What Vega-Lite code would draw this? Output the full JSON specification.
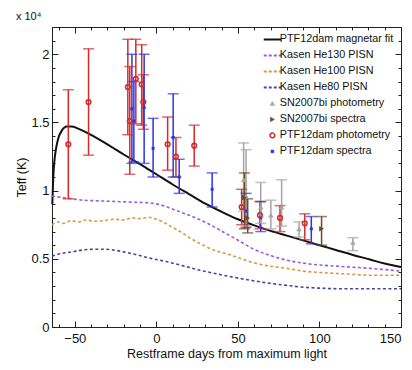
{
  "$schema": "https://vega.github.io/schema/vega-lite/v6.json",
  "width": 349,
  "height": 300,
  "autosize": {"type": "none"},
  "padding": {"left": 52, "top": 27, "right": 11, "bottom": 43},
  "background": "white",
  "title": {"text": "x 10⁴", "anchor": "start", "fontSize": 11, "fontWeight": "normal", "offset": 5, "color": "#111"},
  "config": {
    "font": "Liberation Sans Narrow, Liberation Sans, Arial, sans-serif",
    "view": {"stroke": "#222", "strokeWidth": 1},
    "axis": {"domainColor": "#222", "tickColor": "#222", "labelColor": "#111", "titleColor": "#111", "grid": false, "labelFontSize": 13, "titleFontSize": 12.5, "titleFontWeight": "normal"}
  },
  "datasets": {
    "lines": [
      {"s": "PTF12dam magnetar fit", "x": -63.8, "y": 0.9},
      {"s": "PTF12dam magnetar fit", "x": -63.3, "y": 1.08},
      {"s": "PTF12dam magnetar fit", "x": -62.5, "y": 1.22},
      {"s": "PTF12dam magnetar fit", "x": -61.5, "y": 1.31},
      {"s": "PTF12dam magnetar fit", "x": -60, "y": 1.39},
      {"s": "PTF12dam magnetar fit", "x": -58, "y": 1.44},
      {"s": "PTF12dam magnetar fit", "x": -55, "y": 1.47},
      {"s": "PTF12dam magnetar fit", "x": -52, "y": 1.47},
      {"s": "PTF12dam magnetar fit", "x": -48, "y": 1.455},
      {"s": "PTF12dam magnetar fit", "x": -41, "y": 1.415},
      {"s": "PTF12dam magnetar fit", "x": -30, "y": 1.34},
      {"s": "PTF12dam magnetar fit", "x": -20, "y": 1.265},
      {"s": "PTF12dam magnetar fit", "x": -10, "y": 1.195},
      {"s": "PTF12dam magnetar fit", "x": 0, "y": 1.12},
      {"s": "PTF12dam magnetar fit", "x": 10, "y": 1.045},
      {"s": "PTF12dam magnetar fit", "x": 20, "y": 0.975},
      {"s": "PTF12dam magnetar fit", "x": 30, "y": 0.905},
      {"s": "PTF12dam magnetar fit", "x": 40, "y": 0.845},
      {"s": "PTF12dam magnetar fit", "x": 50, "y": 0.79},
      {"s": "PTF12dam magnetar fit", "x": 60, "y": 0.745},
      {"s": "PTF12dam magnetar fit", "x": 70, "y": 0.705},
      {"s": "PTF12dam magnetar fit", "x": 80, "y": 0.67},
      {"s": "PTF12dam magnetar fit", "x": 90, "y": 0.635},
      {"s": "PTF12dam magnetar fit", "x": 100, "y": 0.6},
      {"s": "PTF12dam magnetar fit", "x": 110, "y": 0.565},
      {"s": "PTF12dam magnetar fit", "x": 120, "y": 0.53},
      {"s": "PTF12dam magnetar fit", "x": 131, "y": 0.495},
      {"s": "PTF12dam magnetar fit", "x": 140, "y": 0.465},
      {"s": "PTF12dam magnetar fit", "x": 150, "y": 0.44},

      {"s": "Kasen He130 PISN", "x": -64, "y": 0.96},
      {"s": "Kasen He130 PISN", "x": -55, "y": 0.945},
      {"s": "Kasen He130 PISN", "x": -45, "y": 0.93},
      {"s": "Kasen He130 PISN", "x": -35, "y": 0.925},
      {"s": "Kasen He130 PISN", "x": -24, "y": 0.92},
      {"s": "Kasen He130 PISN", "x": -14, "y": 0.915},
      {"s": "Kasen He130 PISN", "x": -4, "y": 0.91},
      {"s": "Kasen He130 PISN", "x": 4, "y": 0.89},
      {"s": "Kasen He130 PISN", "x": 12, "y": 0.855},
      {"s": "Kasen He130 PISN", "x": 20, "y": 0.82},
      {"s": "Kasen He130 PISN", "x": 27, "y": 0.785},
      {"s": "Kasen He130 PISN", "x": 33, "y": 0.75},
      {"s": "Kasen He130 PISN", "x": 39, "y": 0.71},
      {"s": "Kasen He130 PISN", "x": 45, "y": 0.67},
      {"s": "Kasen He130 PISN", "x": 51, "y": 0.63},
      {"s": "Kasen He130 PISN", "x": 59, "y": 0.575},
      {"s": "Kasen He130 PISN", "x": 71, "y": 0.52},
      {"s": "Kasen He130 PISN", "x": 80, "y": 0.49},
      {"s": "Kasen He130 PISN", "x": 92, "y": 0.465},
      {"s": "Kasen He130 PISN", "x": 100, "y": 0.455},
      {"s": "Kasen He130 PISN", "x": 112, "y": 0.445},
      {"s": "Kasen He130 PISN", "x": 131, "y": 0.43},
      {"s": "Kasen He130 PISN", "x": 150, "y": 0.41},

      {"s": "Kasen He100 PISN", "x": -64, "y": 0.75},
      {"s": "Kasen He100 PISN", "x": -60, "y": 0.77},
      {"s": "Kasen He100 PISN", "x": -57, "y": 0.76},
      {"s": "Kasen He100 PISN", "x": -52, "y": 0.78},
      {"s": "Kasen He100 PISN", "x": -48, "y": 0.77},
      {"s": "Kasen He100 PISN", "x": -43, "y": 0.785},
      {"s": "Kasen He100 PISN", "x": -38, "y": 0.775},
      {"s": "Kasen He100 PISN", "x": -32, "y": 0.78},
      {"s": "Kasen He100 PISN", "x": -26, "y": 0.79},
      {"s": "Kasen He100 PISN", "x": -20, "y": 0.785},
      {"s": "Kasen He100 PISN", "x": -15, "y": 0.8},
      {"s": "Kasen He100 PISN", "x": -10, "y": 0.795},
      {"s": "Kasen He100 PISN", "x": -5, "y": 0.805},
      {"s": "Kasen He100 PISN", "x": 0, "y": 0.79},
      {"s": "Kasen He100 PISN", "x": 4, "y": 0.77},
      {"s": "Kasen He100 PISN", "x": 10, "y": 0.73},
      {"s": "Kasen He100 PISN", "x": 16, "y": 0.69},
      {"s": "Kasen He100 PISN", "x": 21, "y": 0.65},
      {"s": "Kasen He100 PISN", "x": 27, "y": 0.61},
      {"s": "Kasen He100 PISN", "x": 35, "y": 0.565},
      {"s": "Kasen He100 PISN", "x": 45, "y": 0.53},
      {"s": "Kasen He100 PISN", "x": 52, "y": 0.5},
      {"s": "Kasen He100 PISN", "x": 60, "y": 0.47},
      {"s": "Kasen He100 PISN", "x": 70, "y": 0.445},
      {"s": "Kasen He100 PISN", "x": 80, "y": 0.43},
      {"s": "Kasen He100 PISN", "x": 90, "y": 0.41},
      {"s": "Kasen He100 PISN", "x": 100, "y": 0.4},
      {"s": "Kasen He100 PISN", "x": 115, "y": 0.39},
      {"s": "Kasen He100 PISN", "x": 131, "y": 0.38},
      {"s": "Kasen He100 PISN", "x": 150, "y": 0.38},

      {"s": "Kasen He80 PISN", "x": -64, "y": 0.52},
      {"s": "Kasen He80 PISN", "x": -58, "y": 0.54},
      {"s": "Kasen He80 PISN", "x": -52, "y": 0.55},
      {"s": "Kasen He80 PISN", "x": -45, "y": 0.565},
      {"s": "Kasen He80 PISN", "x": -38, "y": 0.57},
      {"s": "Kasen He80 PISN", "x": -31, "y": 0.57},
      {"s": "Kasen He80 PISN", "x": -24, "y": 0.56},
      {"s": "Kasen He80 PISN", "x": -14, "y": 0.535},
      {"s": "Kasen He80 PISN", "x": -4, "y": 0.505},
      {"s": "Kasen He80 PISN", "x": 6, "y": 0.48},
      {"s": "Kasen He80 PISN", "x": 16, "y": 0.45},
      {"s": "Kasen He80 PISN", "x": 27, "y": 0.415},
      {"s": "Kasen He80 PISN", "x": 35, "y": 0.395},
      {"s": "Kasen He80 PISN", "x": 45, "y": 0.37},
      {"s": "Kasen He80 PISN", "x": 59, "y": 0.34},
      {"s": "Kasen He80 PISN", "x": 70, "y": 0.32},
      {"s": "Kasen He80 PISN", "x": 80, "y": 0.305},
      {"s": "Kasen He80 PISN", "x": 92, "y": 0.29},
      {"s": "Kasen He80 PISN", "x": 100, "y": 0.285},
      {"s": "Kasen He80 PISN", "x": 115, "y": 0.28},
      {"s": "Kasen He80 PISN", "x": 130, "y": 0.28},
      {"s": "Kasen He80 PISN", "x": 150, "y": 0.28}
    ],
    "pts": [
      {"s": "PTF12dam photometry", "x": -54, "y": 1.34, "lo": 0.94, "hi": 1.74},
      {"s": "PTF12dam photometry", "x": -41.6, "y": 1.65, "lo": 1.26, "hi": 2.04},
      {"s": "PTF12dam photometry", "x": -17.5, "y": 1.76, "lo": 1.41, "hi": 2.11},
      {"s": "PTF12dam photometry", "x": -16.3, "y": 1.51, "lo": 1.12, "hi": 1.91},
      {"s": "PTF12dam photometry", "x": -12.6, "y": 1.82, "lo": 1.49, "hi": 2.11},
      {"s": "PTF12dam photometry", "x": -9, "y": 1.78, "lo": 1.48, "hi": 2.07},
      {"s": "PTF12dam photometry", "x": -8, "y": 1.65, "lo": 1.45, "hi": 1.85},
      {"s": "PTF12dam photometry", "x": 6.9, "y": 1.34, "lo": 1.15, "hi": 1.54},
      {"s": "PTF12dam photometry", "x": 12, "y": 1.25, "lo": 1.1, "hi": 1.39},
      {"s": "PTF12dam photometry", "x": 23.2, "y": 1.33, "lo": 1.18, "hi": 1.48},
      {"s": "PTF12dam photometry", "x": 52.3, "y": 0.88, "lo": 0.75, "hi": 1.01},
      {"s": "PTF12dam photometry", "x": 63.5, "y": 0.82, "lo": 0.72, "hi": 0.92},
      {"s": "PTF12dam photometry", "x": 75.8, "y": 0.8, "lo": 0.7, "hi": 0.89},
      {"s": "PTF12dam photometry", "x": 91, "y": 0.76, "lo": 0.64, "hi": 0.83},

      {"s": "PTF12dam spectra", "x": -15, "y": 1.6, "lo": 1.2, "hi": 2.0},
      {"s": "PTF12dam spectra", "x": -13.8, "y": 1.51, "lo": 1.21, "hi": 1.8},
      {"s": "PTF12dam spectra", "x": -7.5, "y": 1.61, "lo": 1.2, "hi": 2.0},
      {"s": "PTF12dam spectra", "x": -2, "y": 1.31, "lo": 1.1, "hi": 1.53},
      {"s": "PTF12dam spectra", "x": 10.3, "y": 1.39, "lo": 1.1, "hi": 1.71},
      {"s": "PTF12dam spectra", "x": 14, "y": 1.1, "lo": 0.98, "hi": 1.23},
      {"s": "PTF12dam spectra", "x": 34.2, "y": 1.01, "lo": 0.88, "hi": 1.13},
      {"s": "PTF12dam spectra", "x": 55, "y": 0.85, "lo": 0.73, "hi": 0.98},
      {"s": "PTF12dam spectra", "x": 64, "y": 0.8, "lo": 0.7, "hi": 0.92},
      {"s": "PTF12dam spectra", "x": 95, "y": 0.72, "lo": 0.61, "hi": 0.81},

      {"s": "SN2007bi photometry", "x": 53.5, "y": 1.08, "lo": 0.85, "hi": 1.35},
      {"s": "SN2007bi photometry", "x": 55, "y": 0.96, "lo": 0.74, "hi": 1.3},
      {"s": "SN2007bi photometry", "x": 64, "y": 0.88, "lo": 0.76, "hi": 1.06},
      {"s": "SN2007bi photometry", "x": 70.2, "y": 0.82, "lo": 0.72, "hi": 0.93},
      {"s": "SN2007bi photometry", "x": 76.8, "y": 0.88, "lo": 0.74, "hi": 1.08},
      {"s": "SN2007bi photometry", "x": 87.5, "y": 0.72, "lo": 0.66, "hi": 0.77},
      {"s": "SN2007bi photometry", "x": 120.5, "y": 0.62, "lo": 0.56, "hi": 0.655},

      {"s": "SN2007bi spectra", "x": 54, "y": 0.95, "lo": 0.72, "hi": 1.13},
      {"s": "SN2007bi spectra", "x": 56, "y": 0.8, "lo": 0.69, "hi": 0.94},
      {"s": "SN2007bi spectra", "x": 101.3, "y": 0.72, "lo": 0.6, "hi": 0.81}
    ]
  },
  "resolve": {"axis": {"x": "independent", "y": "independent"}},
  "layer": [
    {
      "data": {"name": "lines"},
      "transform": [{"filter": "datum.s == 'PTF12dam magnetar fit'"}],
      "mark": {"type": "line", "strokeWidth": 2, "interpolate": "monotone"},
      "encoding": {
        "x": {"field": "x", "type": "quantitative", "scale": {"domain": [-64, 150], "nice": false, "zero": false},
          "axis": {"values": [-50, 0, 50, 100, 150], "format": "d", "tickSize": -6, "labelPadding": 11, "title": "Restframe days from maximum light", "titlePadding": 2, "orient": "bottom"}},
        "y": {"field": "y", "type": "quantitative", "scale": {"domain": [0, 2.2], "nice": false, "zero": false},
          "axis": {"values": [0, 0.5, 1, 1.5, 2], "format": ".1~f", "tickSize": -6, "labelPadding": 9, "title": "Teff (K)", "titlePadding": 2, "orient": "left"}},
        "color": {"field": "s", "type": "nominal",
          "scale": {
            "domain": ["PTF12dam magnetar fit", "Kasen He130 PISN", "Kasen He100 PISN", "Kasen He80 PISN", "SN2007bi photometry", "SN2007bi spectra", "PTF12dam photometry", "PTF12dam spectra"],
            "range": ["#111111", "#9a5ad8", "#d49a40", "#45459a", "#a5a5a5", "#6e4a20", "#d42a2a", "#2a35e0"]
          },
          "legend": {
            "title": null,
            "orient": "top-right",
            "offset": 7,
            "padding": 0,
            "labelFontSize": 10.8,
            "labelColor": "#111",
            "labelOffset": 2,
            "labelLimit": 200,
            "rowPadding": 4,
            "symbolSize": 300,
            "encode": {
              "symbols": {"update": {
                "shape": {"signal": "(datum.value=='PTF12dam magnetar fit'||datum.value=='Kasen He130 PISN'||datum.value=='Kasen He100 PISN'||datum.value=='Kasen He80 PISN') ? 'stroke' : datum.value=='SN2007bi photometry' ? 'triangle-up' : datum.value=='SN2007bi spectra' ? 'triangle-right' : datum.value=='PTF12dam photometry' ? 'circle' : 'square'"},
                "size": {"signal": "(datum.value=='PTF12dam magnetar fit'||datum.value=='Kasen He130 PISN'||datum.value=='Kasen He100 PISN'||datum.value=='Kasen He80 PISN') ? 300 : datum.value=='PTF12dam spectra' ? 8 : 22"},
                "strokeDash": {"signal": "(datum.value=='Kasen He130 PISN'||datum.value=='Kasen He100 PISN'||datum.value=='Kasen He80 PISN') ? [3,2] : [1,0]"},
                "fill": {"signal": "(datum.value=='PTF12dam magnetar fit'||datum.value=='Kasen He130 PISN'||datum.value=='Kasen He100 PISN'||datum.value=='Kasen He80 PISN'||datum.value=='PTF12dam photometry') ? 'transparent' : scale('color', datum.value)"},
                "fillOpacity": {"signal": "datum.value=='PTF12dam photometry' ? 0 : 1"},
                "stroke": {"signal": "scale('color', datum.value)"},
                "strokeWidth": {"signal": "datum.value=='PTF12dam photometry' ? 1.5 : (datum.value=='PTF12dam magnetar fit'||datum.value=='Kasen He130 PISN'||datum.value=='Kasen He100 PISN'||datum.value=='Kasen He80 PISN') ? 2 : 0.5"},
                "opacity": {"value": 1}
              }}
            }
          }
        }
      }
    },
    {
      "data": {"name": "lines"},
      "transform": [{"filter": "datum.s != 'PTF12dam magnetar fit'"}],
      "mark": {"type": "line", "strokeWidth": 1.6, "strokeDash": [3, 2.5], "interpolate": "monotone"},
      "encoding": {
        "x": {"field": "x", "type": "quantitative",
          "axis": {"values": [-60, -40, -30, -20, -10, 10, 20, 30, 40, 60, 70, 80, 90, 110, 120, 130, 140], "labels": false, "domain": false, "tickSize": -3, "title": null, "orient": "bottom"}},
        "y": {"field": "y", "type": "quantitative",
          "axis": {"values": [0.1, 0.2, 0.3, 0.4, 0.6, 0.7, 0.8, 0.9, 1.1, 1.2, 1.3, 1.4, 1.6, 1.7, 1.8, 1.9, 2.1], "labels": false, "domain": false, "tickSize": -3, "title": null, "orient": "left"}},
        "color": {"field": "s", "type": "nominal"}
      }
    },
    {
      "data": {"name": "pts"},
      "mark": {"type": "rule", "strokeWidth": 1.5},
      "encoding": {
        "x": {"field": "x", "type": "quantitative",
          "axis": {"values": [-50, 0, 50, 100, 150], "labels": false, "tickSize": -6, "title": null, "orient": "top"}},
        "y": {"field": "lo", "type": "quantitative",
          "axis": {"values": [0, 0.5, 1, 1.5, 2], "labels": false, "tickSize": -6, "title": null, "orient": "right"}},
        "y2": {"field": "hi"},
        "color": {"field": "s", "type": "nominal"}
      }
    },
    {
      "data": {"name": "pts"},
      "mark": {"type": "tick", "orient": "horizontal", "size": 11, "thickness": 1.5},
      "encoding": {
        "x": {"field": "x", "type": "quantitative",
          "axis": {"values": [-60, -40, -30, -20, -10, 10, 20, 30, 40, 60, 70, 80, 90, 110, 120, 130, 140], "labels": false, "domain": false, "tickSize": -3, "title": null, "orient": "top"}},
        "y": {"field": "lo", "type": "quantitative",
          "axis": {"values": [0.1, 0.2, 0.3, 0.4, 0.6, 0.7, 0.8, 0.9, 1.1, 1.2, 1.3, 1.4, 1.6, 1.7, 1.8, 1.9, 2.1], "labels": false, "domain": false, "tickSize": -3, "title": null, "orient": "right"}},
        "color": {"field": "s", "type": "nominal"}
      }
    },
    {
      "data": {"name": "pts"},
      "mark": {"type": "tick", "orient": "horizontal", "size": 11, "thickness": 1.5},
      "encoding": {
        "x": {"field": "x", "type": "quantitative", "axis": null},
        "y": {"field": "hi", "type": "quantitative", "axis": null},
        "color": {"field": "s", "type": "nominal"}
      }
    },
    {
      "data": {"name": "pts"},
      "transform": [{"filter": "datum.s == 'SN2007bi photometry'"}],
      "mark": {"type": "point", "filled": true, "opacity": 1, "shape": "triangle-up", "size": 30},
      "encoding": {
        "x": {"field": "x", "type": "quantitative", "axis": null},
        "y": {"field": "y", "type": "quantitative", "axis": null},
        "color": {"field": "s", "type": "nominal"}
      }
    },
    {
      "data": {"name": "pts"},
      "transform": [{"filter": "datum.s == 'SN2007bi spectra'"}],
      "mark": {"type": "point", "filled": true, "opacity": 1, "shape": "triangle-right", "size": 30},
      "encoding": {
        "x": {"field": "x", "type": "quantitative", "axis": null},
        "y": {"field": "y", "type": "quantitative", "axis": null},
        "color": {"field": "s", "type": "nominal"}
      }
    },
    {
      "data": {"name": "pts"},
      "transform": [{"filter": "datum.s == 'PTF12dam spectra'"}],
      "mark": {"type": "point", "filled": true, "opacity": 1, "shape": "square", "size": 9},
      "encoding": {
        "x": {"field": "x", "type": "quantitative", "axis": null},
        "y": {"field": "y", "type": "quantitative", "axis": null},
        "color": {"field": "s", "type": "nominal"}
      }
    },
    {
      "data": {"name": "pts"},
      "transform": [{"filter": "datum.s == 'PTF12dam photometry'"}],
      "mark": {"type": "point", "filled": false, "shape": "circle", "size": 22, "strokeWidth": 1.5, "opacity": 1},
      "encoding": {
        "x": {"field": "x", "type": "quantitative", "axis": null},
        "y": {"field": "y", "type": "quantitative", "axis": null},
        "color": {"field": "s", "type": "nominal"}
      }
    }
  ]
}
